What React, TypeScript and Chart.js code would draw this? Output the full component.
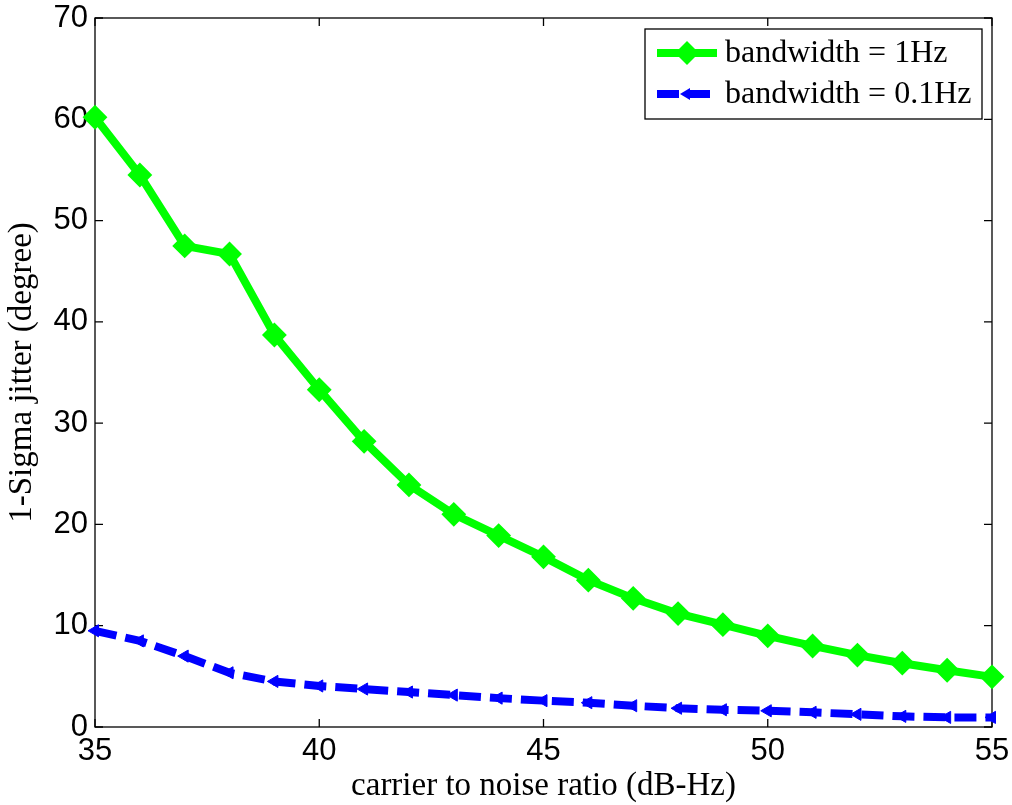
import React, { useEffect, useRef } from "react";
import { Chart, registerables } from "chart.js";

Chart.register(...registerables);

const cnr = [35, 36, 37, 38, 39, 40, 41, 42, 43, 44, 45, 46, 47, 48, 49, 50, 51, 52, 53, 54, 55];
const bw1Hz = [60.2, 54.5, 47.5, 46.7, 38.7, 33.3, 28.2, 23.9, 21.0, 18.9, 16.8, 14.5, 12.7, 11.2, 10.1, 9.0, 8.0, 7.1, 6.3, 5.6, 4.95];
const bw01Hz = [9.5, 8.5, 7.0, 5.35, 4.5, 4.05, 3.75, 3.45, 3.15, 2.85, 2.6, 2.4, 2.1, 1.85, 1.7, 1.6, 1.45, 1.25, 1.05, 0.95, 0.95];
const xTicks = [35, 40, 45, 50, 55];
const yTicks = [0, 10, 20, 30, 40, 50, 60, 70];
const seriesLabels = ["bandwidth = 1Hz", "bandwidth = 0.1Hz"];
const xTitle = "carrier to noise ratio (dB-Hz)";
const yTitle = "1-Sigma jitter (degree)";

const GREEN = "#00FF00";
const BLUE = "#0000FF";
const DASH = [22, 9];

const axesPlugin = {
  id: "matlabAxes",
  beforeDatasetsDraw(chart: any) {
    const { ctx, chartArea } = chart;
    const { left, right, top, bottom } = chartArea;
    const xs = chart.scales.x;
    const ys = chart.scales.y;
    ctx.save();
    ctx.strokeStyle = "#000";
    ctx.lineWidth = 1.3;
    ctx.strokeRect(left, top, right - left, bottom - top);
    const tl = 8;
    ctx.beginPath();
    xTicks.forEach((v) => {
      const px = xs.getPixelForValue(v);
      ctx.moveTo(px, bottom);
      ctx.lineTo(px, bottom - tl);
      ctx.moveTo(px, top);
      ctx.lineTo(px, top + tl);
    });
    yTicks.forEach((v) => {
      const py = ys.getPixelForValue(v);
      ctx.moveTo(left, py);
      ctx.lineTo(left + tl, py);
      ctx.moveTo(right, py);
      ctx.lineTo(right - tl, py);
    });
    ctx.stroke();
    ctx.restore();
  },
  afterDraw(chart: any) {
    const { ctx, chartArea } = chart;
    ctx.save();
    // Axis titles
    ctx.fillStyle = "#000";
    ctx.font = "33px 'Liberation Serif', serif";
    ctx.textAlign = "center";
    ctx.textBaseline = "middle";
    ctx.fillText(xTitle, (chartArea.left + chartArea.right) / 2, 786);
    ctx.save();
    ctx.translate(22, (chartArea.top + chartArea.bottom) / 2);
    ctx.rotate(-Math.PI / 2);
    ctx.fillText(yTitle, 0, 0);
    ctx.restore();

    // Legend
    const bx = 645, by = 29, bw = 337, bh = 90;
    ctx.fillStyle = "#fff";
    ctx.fillRect(bx, by, bw, bh);
    ctx.strokeStyle = "#000";
    ctx.lineWidth = 1.3;
    ctx.strokeRect(bx, by, bw, bh);
    const rows = [53, 94];
    // green row
    ctx.strokeStyle = GREEN;
    ctx.lineWidth = 8;
    ctx.beginPath();
    ctx.moveTo(657, rows[0]);
    ctx.lineTo(717, rows[0]);
    ctx.stroke();
    ctx.fillStyle = GREEN;
    ctx.beginPath();
    const r = 12;
    ctx.moveTo(687 - r, rows[0]);
    ctx.lineTo(687, rows[0] - r);
    ctx.lineTo(687 + r, rows[0]);
    ctx.lineTo(687, rows[0] + r);
    ctx.closePath();
    ctx.fill();
    // blue row
    ctx.strokeStyle = BLUE;
    ctx.lineWidth = 8;
    ctx.setLineDash(DASH);
    ctx.beginPath();
    ctx.moveTo(657, rows[1]);
    ctx.lineTo(717, rows[1]);
    ctx.stroke();
    ctx.setLineDash([]);
    ctx.fillStyle = BLUE;
    ctx.beginPath();
    ctx.moveTo(680, rows[1]);
    ctx.lineTo(690, rows[1] - 6);
    ctx.lineTo(690, rows[1] + 6);
    ctx.closePath();
    ctx.fill();
    // text
    ctx.fillStyle = "#000";
    ctx.font = "32px 'Liberation Serif', serif";
    ctx.textAlign = "left";
    ctx.textBaseline = "middle";
    ctx.fillText(seriesLabels[0], 725, rows[0] + 1);
    ctx.fillText(seriesLabels[1], 725, rows[1] + 1);
    ctx.restore();
  },
};

export default function App() {
  const ref = useRef<HTMLCanvasElement | null>(null);
  useEffect(() => {
    document.body.style.margin = "0";
    const canvas = ref.current;
    if (!canvas) return;
    const chart = new Chart(canvas, {
      type: "line",
      data: {
        datasets: [
          {
            label: seriesLabels[0],
            data: cnr.map((x, i) => ({ x, y: bw1Hz[i] })),
            borderColor: GREEN,
            backgroundColor: GREEN,
            borderWidth: 8,
            pointStyle: "rectRot",
            pointRadius: 11,
            pointBorderWidth: 2,
            pointBorderColor: GREEN,
            pointBackgroundColor: GREEN,
            tension: 0,
            clip: false as any,
          },
          {
            label: seriesLabels[1],
            data: cnr.map((x, i) => ({ x, y: bw01Hz[i] })),
            borderColor: BLUE,
            backgroundColor: BLUE,
            borderWidth: 8,
            borderDash: DASH,
            pointStyle: "triangle",
            pointRotation: 270,
            pointRadius: 7,
            pointBorderWidth: 1,
            pointBorderColor: BLUE,
            pointBackgroundColor: BLUE,
            tension: 0,
            clip: false as any,
          },
        ],
      },
      options: {
        responsive: false,
        animation: false,
        layout: { padding: { left: 0, right: 20, top: 18, bottom: 0 } },
        plugins: {
          legend: { display: false },
          tooltip: { enabled: false },
        },
        scales: {
          x: {
            type: "linear",
            min: 35,
            max: 55,
            grid: { display: false, drawTicks: false },
            border: { display: false },
            afterFit: (s: any) => {
              s.height = 78;
              s.paddingLeft = 0;
              s.paddingRight = 0;
              s.paddingTop = 0;
              s.paddingBottom = 0;
            },
            afterBuildTicks: (s: any) => {
              s.ticks = xTicks.map((v) => ({ value: v }));
            },
            ticks: {
              color: "#000",
              padding: 6,
              maxRotation: 0,
              font: { family: "'Liberation Sans', Arial, sans-serif", size: 31 },
            },
          },
          y: {
            type: "linear",
            min: 0,
            max: 70,
            grid: { display: false, drawTicks: false },
            border: { display: false },
            afterFit: (s: any) => {
              s.width = 95;
              s.paddingLeft = 0;
              s.paddingRight = 0;
              s.paddingTop = 0;
              s.paddingBottom = 0;
            },
            afterBuildTicks: (s: any) => {
              s.ticks = yTicks.map((v) => ({ value: v }));
            },
            ticks: {
              color: "#000",
              padding: 7,
              font: { family: "'Liberation Sans', Arial, sans-serif", size: 31 },
            },
          },
        },
      },
      plugins: [axesPlugin],
    });
    return () => chart.destroy();
  }, []);
  return (
    <canvas
      ref={ref}
      width={1012}
      height={805}
      style={{ position: "fixed", left: 0, top: 0, width: 1012, height: 805, display: "block" }}
    />
  );
}
